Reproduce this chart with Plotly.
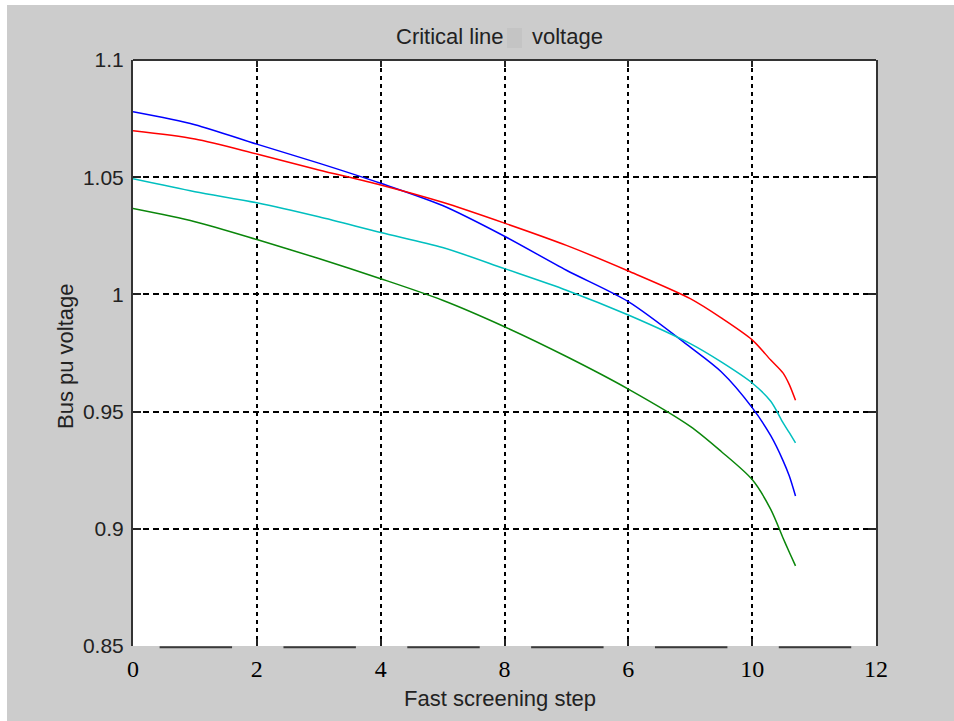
import plotly.graph_objects as go

# Fast screening steps at which the bus voltages were sampled
steps = [0, 1, 2, 3, 4, 5, 6, 7, 8, 9, 9.5, 10, 10.3, 10.5, 10.6, 10.7]

# Bus voltages (pu) along the screening path
bus_blue = [1.0779, 1.0724, 1.0641, 1.0560, 1.0474, 1.0379, 1.0248, 1.0103,
            0.9969, 0.9775, 0.9670, 0.9517, 0.9397, 0.9290, 0.9225, 0.9140]
bus_red = [1.0698, 1.0663, 1.0599, 1.0531, 1.0467, 1.0393, 1.0304, 1.0209,
           1.0100, 0.9982, 0.9900, 0.9806, 0.9720, 0.9664, 0.9615, 0.9548]
bus_cyan = [1.0493, 1.0438, 1.0391, 1.0331, 1.0264, 1.0200, 1.0110, 1.0018,
            0.9912, 0.9790, 0.9712, 0.9622, 0.9544, 0.9452, 0.9410, 0.9367]
bus_green = [1.0366, 1.0310, 1.0234, 1.0153, 1.0067, 0.9975, 0.9862, 0.9735,
             0.9596, 0.9437, 0.9330, 0.9210, 0.9083, 0.8960, 0.8900, 0.8842]

x_tickvals = [0, 2, 4, 6, 8, 10, 12]
x_ticktext = ["0", "2", "4", "8", "6", "10", "12"]
y_tickvals = [0.85, 0.9, 0.95, 1.0, 1.05, 1.1]
y_ticktext = ["0.85", "0.9", "0.95", "1", "1.05", "1.1"]

series = [
    (bus_blue, "#0000ff"),
    (bus_red, "#ff0000"),
    (bus_cyan, "#00bfbf"),
    (bus_green, "#0a860a"),
]

W, H = 954, 721
L, R, T, B = 133, 78, 60, 75
pw, ph = W - L - R, H - T - B


def px_x(x):
    return (x - L) / pw


def px_y(y):
    return (H - B - y) / ph


fig = go.Figure()
for vals, color in series:
    fig.add_trace(go.Scatter(x=steps, y=vals, mode="lines",
                             line=dict(color=color, width=1.5,
                                       shape="spline", smoothing=0.8),
                             showlegend=False, hoverinfo="skip"))

shapes = []
# broken lower axis line, interrupted around every tick label
for a, b in zip(x_tickvals[:-1], x_tickvals[1:]):
    shapes.append(dict(type="line", xref="x", yref="paper",
                       x0=a + 0.43, x1=b - 0.40, y0=-0.002, y1=-0.002,
                       line=dict(color="#3a3a3a", width=2)))
# upper axis line
shapes.append(dict(type="line", xref="paper", yref="paper",
                   x0=0, x1=1, y0=1, y1=1,
                   line=dict(color="#333333", width=2)))
# white frame strips on the top and left edges of the figure
shapes.append(dict(type="rect", xref="paper", yref="paper",
                   x0=px_x(0), x1=px_x(W), y0=px_y(5), y1=px_y(-2),
                   fillcolor="white", line=dict(width=0)))
shapes.append(dict(type="rect", xref="paper", yref="paper",
                   x0=px_x(-2), x1=px_x(7), y0=px_y(H + 2), y1=px_y(-2),
                   fillcolor="white", line=dict(width=0)))
# blank glyph box inside the title
shapes.append(dict(type="rect", xref="paper", yref="paper",
                   x0=px_x(507), x1=px_x(522), y0=px_y(48), y1=px_y(28),
                   fillcolor="#c4c4c4", line=dict(width=0)))

sans = "Liberation Sans"
annotations = [
    dict(text="Critical line", xref="paper", yref="paper",
         x=px_x(506), y=px_y(37), xanchor="right", yanchor="middle",
         showarrow=False, font=dict(family=sans, size=22, color="#222222")),
    dict(text="voltage", xref="paper", yref="paper",
         x=px_x(530), y=px_y(37), xanchor="left", yanchor="middle",
         showarrow=False, font=dict(family=sans, size=22, color="#222222")),
    dict(text="Fast screening step", xref="paper", yref="paper",
         x=px_x(500), y=px_y(698), xanchor="center", yanchor="middle",
         showarrow=False, font=dict(family=sans, size=22, color="#222222")),
    dict(text="Bus pu voltage", xref="paper", yref="paper",
         x=px_x(65), y=px_y(356), xanchor="center", yanchor="middle",
         textangle=-90, showarrow=False,
         font=dict(family=sans, size=22, color="#222222")),
]

fig.update_layout(
    width=W, height=H,
    margin=dict(l=L, r=R, t=T, b=B, pad=0),
    paper_bgcolor="#cccccc",
    plot_bgcolor="white",
    shapes=shapes,
    annotations=annotations,
    xaxis=dict(
        range=[0, 12], tickvals=x_tickvals, ticktext=x_ticktext,
        showline=False, zeroline=False,
        ticks="inside", ticklen=7, tickwidth=1.5, tickcolor="#222222",
        mirror="ticks",
        showgrid=True, gridcolor="black", gridwidth=1.6, griddash="4px,4px",
        tickfont=dict(family="Liberation Serif", size=24, color="black"),
        ticklabelstandoff=6,
    ),
    yaxis=dict(
        range=[0.85, 1.1], tickvals=y_tickvals, ticktext=y_ticktext,
        showline=True, linecolor="#333333", linewidth=2, mirror="ticks",
        zeroline=False,
        ticks="inside", ticklen=8, tickwidth=1.5, tickcolor="#222222",
        showgrid=True, gridcolor="black", gridwidth=1.6, griddash="6px,4px",
        tickfont=dict(family=sans, size=21, color="#222222"),
        ticklabelstandoff=3,
    ),
)

fig.write_html("out.html", config={"displayModeBar": False})
